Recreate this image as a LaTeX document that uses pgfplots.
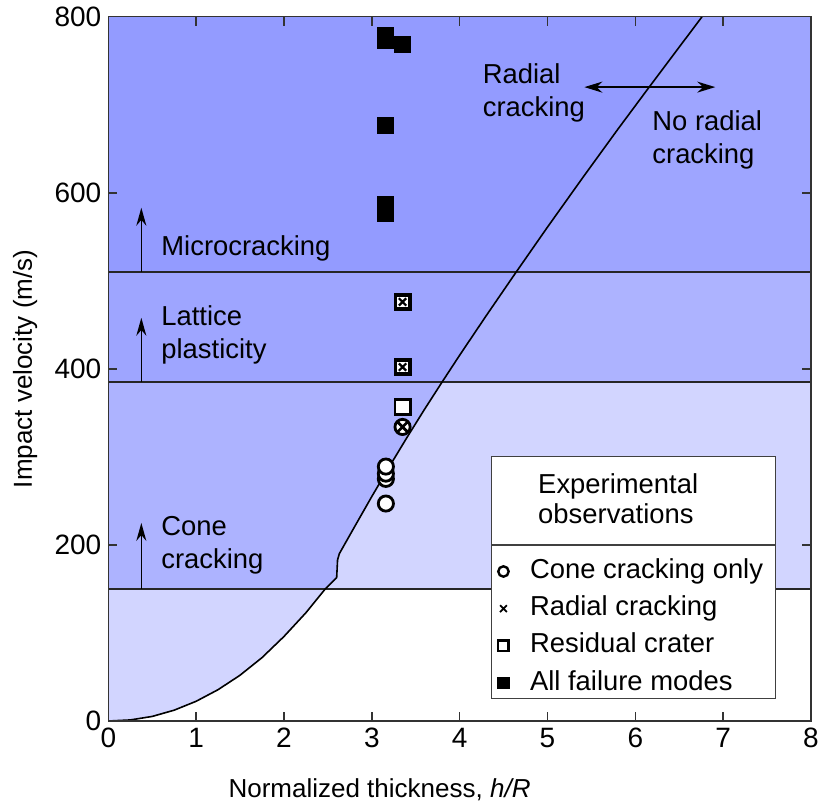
\documentclass[border=0pt]{standalone}
\usepackage{fontspec}
\setmainfont{Liberation Sans}
\usepackage{pgfplots}
\pgfplotsset{compat=1.18}
\usetikzlibrary{arrows.meta,plotmarks,calc}

\definecolor{cA}{HTML}{D2D5FF}
\definecolor{cB}{HTML}{ADB3FF}
\definecolor{cC}{HTML}{9EA5FF}
\definecolor{cD}{HTML}{939BFF}

\begin{document}
\begin{tikzpicture}
\begin{axis}[
  width=351.35pt, height=352.15pt, scale only axis,
  xmin=0, xmax=8, ymin=0, ymax=800,
  xtick={0,1,...,8}, ytick={0,200,...,800},
  tick align=inside, major tick length=4.5pt,
  axis line style={line width=0.75pt, color=black!80},
  every tick/.style={line width=0.75pt, color=black!80},
  xlabel={Normalized thickness, \textit{h/R}},
  ylabel={Impact velocity (m/s)},
  xlabel style={at={(axis description cs:0.386,-0.098)}, anchor=center},
  ylabel style={at={(axis description cs:-0.1185,0.5)}, anchor=center},
  tick label style={font=\fontsize{14}{16}\selectfont},
  label style={font=\fontsize{13}{15}\selectfont},
  /pgf/number format/assume math mode=true,
  axis on top,
  legend style={at={(0.5538,0.237)}, anchor=north west, draw=none, fill=none,
    inner sep=0pt, row sep=1.6pt, column sep=8.5pt,
    font=\fontsize{13.7}{16}\selectfont,
    nodes={text height=10pt, text depth=3pt, inner sep=2pt}},
  legend cell align=left,
]
% --- background regions ---
\addplot[fill=cA, draw=none, forget plot] coordinates {(0,150) (8,150) (8,385) (0,385)} -- cycle;
\addplot[fill=cB, draw=none, forget plot] coordinates {(0,385) (8,385) (8,510) (0,510)} -- cycle;
\addplot[fill=cC, draw=none, forget plot] coordinates {(0,510) (8,510) (8,800) (0,800)} -- cycle;
% left of curve (radial cracking side)
\addplot[fill=cA, draw=none, forget plot] coordinates {(0,0) (0.25,1.2) (0.5,5.2) (0.75,12.3) (1.0,22.4) (1.25,35.6) (1.5,52) (1.75,72) (2.0,96) (2.25,123) (2.47,150) (0,150)} -- cycle;
\addplot[fill=cB, draw=none, forget plot] coordinates {(0,150) (2.47,150) (2.60,163) (2.61,183) (2.63,190) (2.8,220) (3.0,255) (3.2,289) (3.4,322) (3.6,354) (3.8,385) (0,385)} -- cycle;
\addplot[fill=cC, draw=none, forget plot] coordinates {(0,385) (3.8,385) (4.0,415.5) (4.3,460) (4.63,508) (4.645,510) (0,510)} -- cycle;
\addplot[fill=cD, draw=none, forget plot] coordinates {(0,510) (4.645,510) (5.0,561) (5.4,617) (5.8,672) (6.15,719) (6.5,765.5) (6.76,800) (0,800)} -- cycle;
% horizontal thresholds
\addplot[black!85, line width=0.8pt, forget plot] coordinates {(0,150) (8,150)};
\addplot[black!85, line width=0.8pt, forget plot] coordinates {(0,385) (8,385)};
\addplot[black!85, line width=0.8pt, forget plot] coordinates {(0,510) (8,510)};
% boundary curve
\addplot[black, line width=0.8pt, line join=round, forget plot] coordinates {(0,0) (0.25,1.2) (0.5,5.2) (0.75,12.3) (1.0,22.4) (1.25,35.6) (1.5,52) (1.75,72) (2.0,96) (2.25,123) (2.47,150) (2.60,163) (2.61,183) (2.63,190) (2.8,220) (3.0,255) (3.2,289) (3.4,322) (3.6,354) (3.8,385) (4.0,415.5) (4.3,460) (4.63,508) (5.0,561) (5.4,617) (5.8,672) (6.15,719) (6.5,765.5) (6.76,800)};
% arrows and annotations
\draw[-{Stealth[length=9pt,width=5pt]}, line width=0.8pt] (axis cs:0.376,150) -- (axis cs:0.376,225);
\draw[-{Stealth[length=9pt,width=5pt]}, line width=0.8pt] (axis cs:0.376,385) -- (axis cs:0.376,458);
\draw[-{Stealth[length=9pt,width=5pt]}, line width=0.8pt] (axis cs:0.376,510) -- (axis cs:0.376,583);
\draw[{Stealth[length=9pt,width=5.5pt]}-{Stealth[length=9pt,width=5.5pt]}, line width=0.8pt] (axis cs:5.42,720) -- (axis cs:6.91,720);
\node[anchor=west, align=left, inner sep=0pt, font=\fontsize{13.7}{16.5}\selectfont] at (axis cs:0.60,537) {Microcracking};
\node[anchor=west, align=left, inner sep=0pt, font=\fontsize{13.7}{16.5}\selectfont] at (axis cs:0.60,439) {Lattice\\plasticity};
\node[anchor=west, align=left, inner sep=0pt, font=\fontsize{13.7}{16.5}\selectfont] at (axis cs:0.60,200) {Cone\\cracking};
\node[anchor=west, align=left, inner sep=0pt, font=\fontsize{13.7}{16.5}\selectfont] at (axis cs:4.26,713) {Radial\\cracking};
\node[anchor=west, align=left, inner sep=0pt, font=\fontsize{13.7}{16.5}\selectfont] at (axis cs:6.19,660) {No radial\\cracking};
% data points
\addplot[only marks, mark=square*, mark size=4pt, black, forget plot] coordinates {(3.16,779) (3.16,773) (3.35,769) (3.16,677) (3.16,587) (3.16,576)};
\addplot[only marks, mark=square*, mark size=3.6pt, mark options={fill=white, draw=black, line width=1.8pt}, forget plot] coordinates {(3.35,476) (3.35,402)};
\addplot[only marks, mark=x, mark size=2.6pt, mark options={draw=black, line width=1.1pt}, forget plot] coordinates {(3.35,476) (3.35,402)};
\addplot[only marks, mark=square*, mark size=3.8pt, mark options={fill=white, draw=black, line width=1.4pt}, forget plot] coordinates {(3.35,357)};
\addplot[only marks, mark=otimes*, mark size=3.8pt, mark options={fill=white, draw=black, line width=1.4pt}, forget plot] coordinates {(3.35,334)};
\addplot[only marks, mark=*, mark size=3.8pt, mark options={fill=white, draw=black, line width=1.4pt}, forget plot] coordinates {(3.16,247) (3.16,275) (3.16,281) (3.16,289)};
% legend box
\draw[fill=white, draw=black!75, line width=0.6pt] (axis cs:4.36,26) rectangle (axis cs:7.60,300);
\draw[black!75, line width=0.6pt] (axis cs:4.36,200) -- (axis cs:7.60,200);
\node[anchor=west, align=left, inner sep=0pt, font=\fontsize{13.7}{15}\selectfont] at (axis cs:4.89,253) {Experimental\\observations};
\addlegendimage{only marks, mark=*, mark size=2.6pt, mark options={fill=white, draw=black, line width=1.2pt}}
\addlegendimage{only marks, mark=x, mark size=2.4pt, mark options={draw=black, line width=0.9pt}}
\addlegendimage{only marks, mark=square*, mark size=2.6pt, mark options={fill=white, draw=black, line width=1.2pt}}
\addlegendimage{only marks, mark=square*, mark size=2.8pt, mark options={fill=black, draw=black}}
\legend{Cone cracking only, Radial cracking, Residual crater, All failure modes}
\end{axis}
\pgfresetboundingbox
\path ($(current axis.south west)+(-54.15pt,-42pt)$) rectangle ($(current axis.north east)+(4pt,8.35pt)$);
\end{tikzpicture}
\end{document}
